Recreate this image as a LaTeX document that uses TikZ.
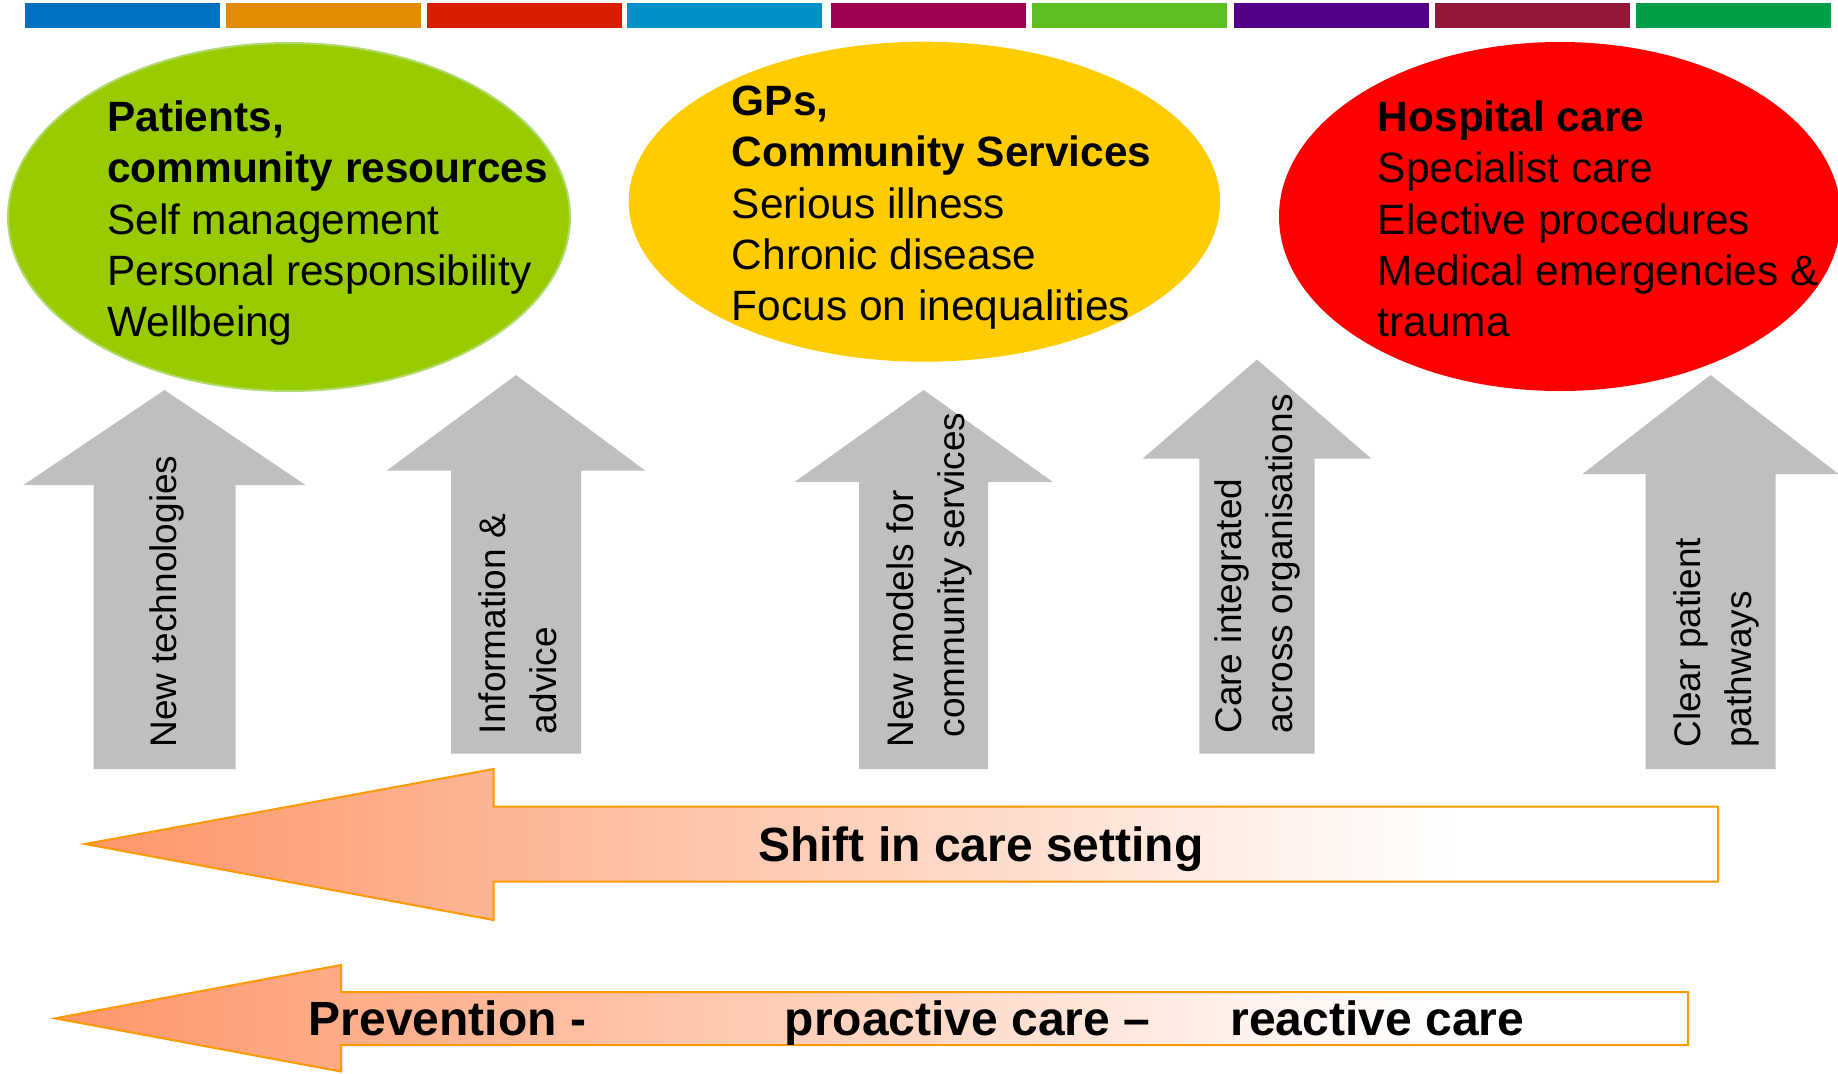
\documentclass[tikz,border=0pt]{standalone}
\usepackage{fontspec}
\setmainfont{Liberation Sans}
\usetikzlibrary{shapes.geometric}
\definecolor{barA}{RGB}{0,112,192}
\definecolor{barB}{RGB}{225,138,4}
\definecolor{barC}{RGB}{216,31,5}
\definecolor{barD}{RGB}{0,145,200}
\definecolor{barE}{RGB}{160,0,80}
\definecolor{barF}{RGB}{93,191,34}
\definecolor{barG}{RGB}{82,0,136}
\definecolor{barH}{RGB}{147,24,56}
\definecolor{barI}{RGB}{0,158,72}
\definecolor{gGreen}{RGB}{153,204,0}
\definecolor{gEdge}{RGB}{176,218,110}
\definecolor{yel}{RGB}{255,204,0}
\definecolor{hred}{RGB}{255,0,0}
\definecolor{arrgray}{RGB}{191,191,191}
\definecolor{orEdge}{RGB}{255,153,0}
\definecolor{salm}{RGB}{252,150,104}
\pgfdeclarehorizontalshading{salfade}{100bp}{color(0bp)=(salm); color(25bp)=(salm); color(67bp)=(white); color(100bp)=(white)}
\newcommand\UpArr[6]{%
  \fill[arrgray] (#1,#2) -- ({#1+#4},#3) -- ({#1+#5},#3) -- ({#1+#5},#6) -- ({#1-#5},#6) -- ({#1-#5},#3) -- ({#1-#4},#3) -- cycle;}
\begin{document}
\begin{tikzpicture}[x=0.5pt,y=-0.5pt,
  ell/.style={ellipse, inner sep=0pt},
  elltext/.style={anchor=north west, align=left, inner sep=0pt, font=\fontsize{21.2pt}{25.6pt}\selectfont},
  arrtext/.style={rotate=90, anchor=west, align=left, inner sep=0pt, font=\fontsize{18.5pt}{25.5pt}\selectfont},
  shiftarrow/.style={draw=orEdge, line width=1pt, shade, shading=salfade, line join=miter},
  bigtext/.style={inner sep=0pt, font=\bfseries\fontsize{24pt}{28pt}\selectfont}]
\useasboundingbox (0,0) rectangle (1838,1073);
\fill[white] (0,0) rectangle (1838,1073);
% colour bars
\fill[barA] (25.2,3) rectangle (220.1,28);
\fill[barB] (225.9,3) rectangle (421.3,28);
\fill[barC] (427.2,3) rectangle (622,28);
\fill[barD] (627.3,3) rectangle (822.2,28);
\fill[barE] (831,3) rectangle (1026,28);
\fill[barF] (1031.8,3) rectangle (1227.2,28);
\fill[barG] (1234.3,3) rectangle (1429.1,28);
\fill[barH] (1435,3) rectangle (1629.8,28);
\fill[barI] (1636.3,3) rectangle (1831.1,28);
% ellipses
\node[ell, fill=gGreen, draw=gEdge, line width=1pt, minimum width=281pt, minimum height=174pt] (patients) at (289,217) {};
\node[ell, fill=yel, minimum width=295.7pt, minimum height=160pt] (gps) at (924.4,201.7) {};
\node[ell, fill=hred, minimum width=281pt, minimum height=174.5pt] (hosp) at (1560,216.5) {};
\node[elltext] (patientsT) at (106.8,100.6) {\textbf{Patients,}\\\textbf{community resources}\\Self management\\Personal responsibility\\Wellbeing};
\node[elltext] (gpsT) at (731.5,85.6) {\textbf{GPs,}\\\textbf{Community Services}\\Serious illness\\Chronic disease\\Focus on inequalities};
\node[elltext] (hospT) at (1377.5,100.6) {\textbf{Hospital care}\\Specialist care\\Elective procedures\\Medical emergencies \&\\trauma};
% up arrows
\UpArr{164.5}{390}{485}{141}{71}{769}
\UpArr{516}{375}{470.5}{129.2}{65}{753.5}
\UpArr{923.7}{390}{481.8}{128.9}{64.5}{769}
\UpArr{1257}{359.5}{458.5}{114.2}{57.7}{753.5}
\UpArr{1710.5}{375}{474}{128}{65}{769}
\node[arrtext] (newtech) at (167,748) {New technologies};
\node[arrtext] (info) at (517.5,734.5) {Information \&\\advice};
\node[arrtext] (newmodels) at (929,748) {New models for\\\hspace*{5.14pt}community services};
\node[arrtext] (careint) at (1257.5,734) {Care integrated\\across organisations};
\node[arrtext] (clear) at (1716,748) {Clear patient\\pathways};
% left arrows
\path[shiftarrow] (85,844) -- (493.5,769) -- (493.5,806.5) -- (1718,806.5) -- (1718,881.7) -- (493.5,881.7) -- (493.5,920) -- cycle;
\path[shiftarrow] (55,1018.3) -- (341,965) -- (341,992) -- (1688,992) -- (1688,1045) -- (341,1045) -- (341,1071.5) -- cycle;
\node[bigtext, anchor=base] (shift) at (980.8,861.7) {Shift in care setting};
\node[bigtext, anchor=base west] (prev) at (308.3,1035) {Prevention -\hspace{99.3pt}proactive care –\hspace{40.2pt}reactive care};
\end{tikzpicture}
\end{document}
